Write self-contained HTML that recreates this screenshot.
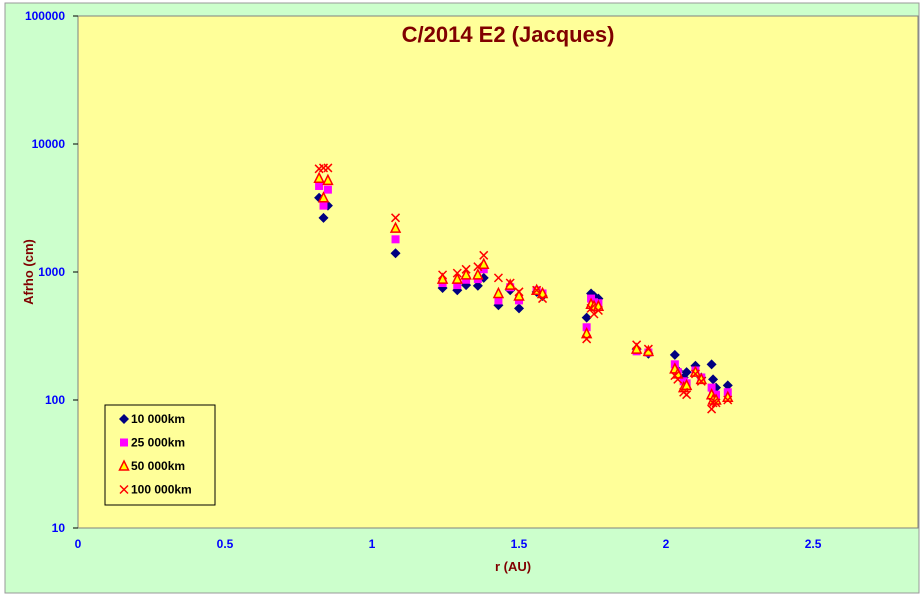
<!DOCTYPE html>
<html><head><meta charset="utf-8"><style>
html,body{margin:0;padding:0;background:#fff;}
svg{display:block;font-family:"Liberation Sans",Arial,sans-serif;}
</style></head><body>
<svg id="chart" width="920" height="600">
<rect x="0" y="0" width="920" height="600" fill="#ffffff"/>
<rect x="5" y="3" width="914" height="590" fill="#ccffcc" stroke="#999" stroke-width="1"/>
<rect x="78" y="16" width="840" height="512" fill="#ffff99" stroke="#808080" stroke-width="1"/>
<text x="508" y="42" text-anchor="middle" font-size="22" font-weight="bold" fill="#800000">C/2014 E2 (Jacques)</text>
<text x="513" y="571" text-anchor="middle" font-size="13" font-weight="bold" fill="#800000">r (AU)</text>
<text x="33" y="272" text-anchor="middle" font-size="13" font-weight="bold" fill="#800000" transform="rotate(-90 33 272)">Afrho (cm)</text>
<g id="axes"></g>
<g id="marks"></g>
<g>
<rect x="105" y="405" width="110" height="100" fill="#ffff99" stroke="#000" stroke-width="1"/>
<g id="legend"></g>
</g>
</svg>
<script>
const xTicks=[0,0.5,1,1.5,2,2.5];
const xTickLabels=["0","0.5","1","1.5","2","2.5"];
const yTicks=[10,100,1000,10000,100000];
const yTickLabels=["10","100","1000","10000","100000"];
const rValues=[0.82,0.835,0.85,1.08,1.24,1.29,1.32,1.36,1.38,1.43,1.47,1.50,1.56,1.58,1.73,1.745,1.755,1.77,1.90,1.94,2.03,2.04,2.06,2.07,2.10,2.12,2.155,2.16,2.17,2.21];
const afrho10k=[3800,2650,3300,1400,750,720,790,780,900,550,720,520,700,650,440,680,650,620,250,230,225,170,150,165,185,150,190,145,125,130];
const afrho25k=[4700,3300,4400,1800,820,790,870,880,1050,600,760,600,720,680,370,620,580,570,240,235,190,165,140,135,170,150,125,110,110,115];
const afrho50k=[5400,3800,5200,2200,880,880,950,950,1150,680,790,650,720,680,330,560,540,540,250,240,175,160,125,130,165,145,110,100,100,105];
const afrho100k=[6400,6500,6500,2650,950,980,1050,1100,1350,900,820,700,720,620,300,520,470,500,270,250,155,145,115,110,160,140,85,95,95,100];
const seriesNames=["10 000km","25 000km","50 000km","100 000km"];
const NS="http://www.w3.org/2000/svg";
const X0=78,X1=918,Y0=528,Y1=16,XMAX=2.857;
function xs(v){return X0+(v/XMAX)*(X1-X0);}
function ys(v){return Y0-(Math.log10(v)-1)/4*(Y0-Y1);}
function mk(tag,attrs,parent){const e=document.createElementNS(NS,tag);for(const k in attrs)e.setAttribute(k,attrs[k]);parent.appendChild(e);return e;}
const axes=document.getElementById('axes');
xTicks.forEach((t,i)=>{
 const tx=mk('text',{x:xs(t),y:Y0+20,'text-anchor':'middle','font-size':12,'font-weight':'bold',fill:'#0000ff'},axes);
 tx.textContent=xTickLabels[i];
 
 
});
yTicks.forEach((t,i)=>{
 const tx=mk('text',{x:X0-13,y:ys(t)+4,'text-anchor':'end','font-size':12,'font-weight':'bold',fill:'#0000ff'},axes);
 tx.textContent=yTickLabels[i];
 
 
 const tl=mk('line',{x1:X0-5,x2:X0,y1:ys(t),y2:ys(t),stroke:'#000'},axes);
 
 
});
function drawMarker(kind,cx,cy,g){
 let e;
 if(kind===0){e=mk('polygon',{points:`${cx},${cy-5} ${cx+5},${cy} ${cx},${cy+5} ${cx-5},${cy}`,fill:'#000080'},g);}
 else if(kind===1){e=mk('rect',{x:cx-4,y:cy-4,width:8,height:8,fill:'#ff00ff'},g);}
 else if(kind===2){e=mk('polygon',{points:`${cx},${cy-5} ${cx+4.5},${cy+4} ${cx-4.5},${cy+4}`,fill:'#ffff00',stroke:'#ff0000','stroke-width':1.5},g);}
 else {e=mk('path',{d:`M${cx-4},${cy-4}L${cx+4},${cy+4}M${cx+4},${cy-4}L${cx-4},${cy+4}`,stroke:'#ff0000','stroke-width':1.5,fill:'none'},g);}
 return e;
}
const marks=document.getElementById('marks');
const allSeries=[afrho10k,afrho25k,afrho50k,afrho100k];
const seriesKeys=["10k","25k","50k","100k"];
allSeries.forEach((arr,s)=>{
 const g=mk('g',{},marks);
 
 
 arr.forEach((v,i)=>{
  const e=drawMarker(s,xs(rValues[i]),ys(v),g);
  
  
 });
});
const leg=document.getElementById('legend');
seriesNames.forEach((n,s)=>{
 const y=419+s*23.5;
 const e=drawMarker(s,124,y,leg);
 
 
 const t=mk('text',{x:131,y:y+4,'font-size':12,'font-weight':'bold',fill:'#000'},leg);
 t.textContent=n;
 
 
});
</script>
</body></html>
